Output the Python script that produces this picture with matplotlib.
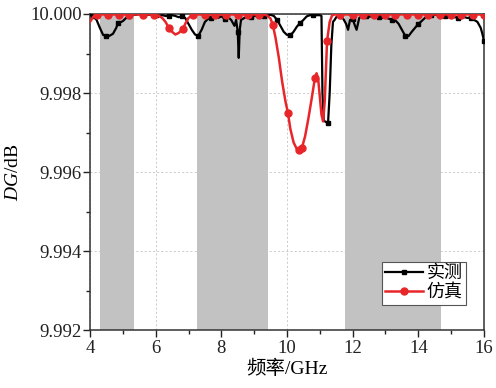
import numpy as np
import matplotlib
matplotlib.use("Agg")
import matplotlib.pyplot as plt
from matplotlib.ticker import MultipleLocator, FormatStrFormatter

# ---------------- data ----------------
# shaded bands (GHz)
band_start = [4.3, 7.26, 11.77]
band_end = [5.35, 9.42, 14.7]

# measured (实测): frequency (GHz) and DG (dB)
meas_f = [4.0, 4.1, 4.2, 4.3, 4.4, 4.5, 4.6, 4.7, 4.8, 4.85, 4.9, 5.0, 5.1, 5.2, 5.3,
          5.4, 5.5, 5.6, 5.7, 5.8, 5.9, 6.0, 6.1, 6.2, 6.3, 6.4, 6.5, 6.6, 6.7, 6.8,
          6.9, 7.0, 7.1, 7.2, 7.3, 7.4, 7.5, 7.6, 7.7, 7.8, 7.9, 8.0, 8.1, 8.2, 8.3,
          8.4, 8.45, 8.5, 8.53, 8.56, 8.6, 8.7, 8.8, 8.9, 9.0, 9.1, 9.2, 9.3, 9.4,
          9.5, 9.6, 9.7, 9.8, 9.9, 10.0, 10.1, 10.2, 10.3, 10.4, 10.5, 10.6, 10.7,
          10.8, 10.9, 11.0, 11.05, 11.08, 11.12, 11.2, 11.25, 11.3, 11.35, 11.4,
          11.45, 11.5, 11.6, 11.7, 11.8, 11.86, 11.92, 12.0, 12.05, 12.12, 12.2,
          12.3, 12.4, 12.5, 12.6, 12.7, 12.8, 12.9, 13.0, 13.1, 13.2, 13.3, 13.4,
          13.5, 13.6, 13.7, 13.8, 13.9, 14.0, 14.1, 14.2, 14.3, 14.4, 14.5, 14.6,
          14.7, 14.8, 14.9, 15.0, 15.1, 15.2, 15.3, 15.4, 15.5, 15.6, 15.7, 15.8,
          15.9, 15.95, 16.0]
meas_dg = [9.99997, 9.99995, 9.99985, 9.99965, 9.99947, 9.99944, 9.99945, 9.99950,
           9.99965, 9.99977, 9.99978, 9.99982, 9.99990, 9.99995, 9.99998,
           9.99998, 10.00000, 9.99999, 9.99997, 9.99998, 9.99999, 9.99997, 9.99995,
           9.99997, 9.99995, 9.99994, 9.99997, 9.99995, 9.99992, 9.99994,
           9.99990, 9.99975, 9.99960, 9.99948, 9.99945, 9.99960, 9.99980, 9.99988,
           9.99990, 9.99992, 9.99990, 9.99994, 9.99988, 9.99992, 9.99985,
           9.99970, 9.99985, 9.99955, 9.99889, 9.99960, 9.99985, 9.99990, 9.99994,
           9.99992, 9.99995, 9.99995, 9.99997, 9.99995, 9.99997,
           9.99998, 9.99995, 9.99985, 9.99970, 9.99955, 9.99947, 9.99946, 9.99955,
           9.99968, 9.99977, 9.99985, 9.99994, 9.99997,
           9.99998, 9.99997, 9.99997, 9.99995, 9.99800, 9.99730, 9.99726, 9.99724,
           9.99800, 9.99920, 9.99980,
           9.99985, 9.99992, 9.99995, 9.99990, 9.99975, 9.99960, 9.99985, 9.99988,
           9.99975, 9.99960, 9.99990,
           9.99995, 9.99994, 9.99993, 9.99995, 9.99992, 9.99992, 9.99990, 9.99991,
           9.99988, 9.99986, 9.99984, 9.99975,
           9.99960, 9.99945, 9.99944, 9.99955, 9.99965, 9.99975, 9.99982, 9.99990,
           9.99995, 9.99998, 9.99998, 9.99997,
           9.99995, 9.99996, 9.99992, 9.99990, 9.99992, 9.99991, 9.99989, 9.99992,
           9.99990, 9.99991, 9.99985, 9.99980,
           9.99965, 9.99950, 9.99932]
meas_mark_f = [4.1, 4.5, 4.85, 5.2, 5.6, 6.0, 6.4, 6.8, 7.3, 7.7, 8.1, 8.5, 8.9, 9.3,
               9.7, 10.1, 10.4, 10.8, 11.25, 11.6, 12.0, 12.4, 12.8, 13.2, 13.6, 14.0,
               14.4, 14.8, 15.2, 15.6, 16.0]

# simulated (仿真)
sim_f = [4.0, 4.1, 4.2, 4.3, 4.4, 4.55, 4.7, 4.88, 5.0, 5.19, 5.4, 5.61, 5.8, 5.95,
         6.1, 6.2, 6.3, 6.4, 6.5, 6.6, 6.7, 6.83, 6.9, 7.0, 7.15, 7.3, 7.5, 7.65,
         7.8, 8.0, 8.15, 8.3, 8.5, 8.65, 8.8, 9.0, 9.15, 9.3, 9.4, 9.5, 9.57, 9.65,
         9.75, 9.85, 9.95, 10.03, 10.1, 10.2, 10.3, 10.37, 10.45, 10.55, 10.65,
         10.75, 10.85, 10.9, 10.95, 11.0, 11.05, 11.1, 11.15, 11.22, 11.3, 11.37,
         11.45, 11.6, 11.8, 12.0, 12.15, 12.3, 12.5, 12.65, 12.8, 13.0, 13.15, 13.3,
         13.5, 13.65, 13.8, 14.0, 14.15, 14.3, 14.5, 14.65, 14.8, 15.0, 15.15, 15.3,
         15.5, 15.65, 15.8, 16.0]
sim_dg = [9.99980, 9.99993, 9.99998, 9.99999, 9.99999, 9.99998, 9.99999, 9.99998,
          9.99999, 9.99998, 9.99999, 9.99998, 9.99999, 9.99998,
          9.99995, 9.99990, 9.99980, 9.99965, 9.99955, 9.99948, 9.99952, 9.99962,
          9.99975, 9.99990, 9.99998, 9.99999, 9.99998, 9.99999,
          9.99998, 9.99999, 9.99998, 9.99999, 9.99998, 9.99999, 9.99998, 9.99999,
          9.99998, 9.99999, 9.99996, 9.99988, 9.99972, 9.99940,
          9.99890, 9.99830, 9.99780, 9.99749, 9.99710, 9.99675, 9.99658, 9.99655,
          9.99660, 9.99690, 9.99735,
          9.99785, 9.99838, 9.99850, 9.99835, 9.99790, 9.99745, 9.99728, 9.99780,
          9.99932, 9.99980, 9.99996,
          9.99999, 9.99998, 9.99999, 9.99998, 9.99999, 9.99998, 9.99999, 9.99998,
          9.99999, 9.99998, 9.99999, 9.99998,
          9.99999, 9.99998, 9.99999, 9.99998, 9.99999, 9.99998, 9.99999, 9.99998,
          9.99999, 9.99998, 9.99999, 9.99998,
          9.99999, 9.99998, 9.99999, 9.99998]
sim_mark_f = [4.2, 4.55, 4.88, 5.19, 5.61, 5.95, 6.4, 6.83, 7.15, 7.5, 7.8, 8.15, 8.5,
              8.8, 9.15, 9.57, 10.03, 10.37, 10.45, 10.85, 11.22, 11.6, 12.0, 12.3,
              12.65, 13.0, 13.3, 13.65, 14.0, 14.3, 14.65, 15.0, 15.3, 15.65, 16.0]

x_ticks = [4, 6, 8, 10, 12, 14, 16]
y_ticks = [9.992, 9.994, 9.996, 9.998, 10.000]

# ---------------- plotting ----------------
plt.rcParams['font.family'] = ['Liberation Serif', 'Noto Sans CJK SC']
plt.rcParams['mathtext.fontset'] = 'custom'
plt.rcParams['mathtext.it'] = 'Liberation Serif:italic'
plt.rcParams['mathtext.rm'] = 'Liberation Serif'

fig = plt.figure(figsize=(4.96, 3.88), dpi=100)
ax = fig.add_axes([90 / 496, 1 - 330 / 388, 394 / 496, 316 / 388])

for s, e in zip(band_start, band_end):
    ax.axvspan(s, e, color='#c2c2c2', lw=0, zorder=0.5)

def idx_of(fs, marks):
    fs = np.asarray(fs)
    return [int(np.argmin(np.abs(fs - m))) for m in marks]

ax.plot(meas_f, meas_dg, color='black', lw=1.6, marker='s', ms=3.5,
        markevery=idx_of(meas_f, meas_mark_f), label='实测', zorder=3)
ax.plot(sim_f, sim_dg, color='#e8262a', lw=1.8, marker='o', ms=5,
        markevery=idx_of(sim_f, sim_mark_f), label='仿真', zorder=4)

ax.set_xlim(4, 16)
ax.set_ylim(9.992, 10.000)
ax.set_xticks(x_ticks)
ax.set_yticks(y_ticks)
ax.xaxis.set_minor_locator(MultipleLocator(1))
ax.yaxis.set_minor_locator(MultipleLocator(0.001))
ax.yaxis.set_major_formatter(FormatStrFormatter('%.3f'))
ax.tick_params(which='major', direction='out', length=5, width=1.0, labelsize=13.5,
               colors='#222222', labelcolor='#222222')
ax.tick_params(which='minor', direction='out', length=3, width=1.0, colors='#222222')
ax.tick_params(axis='x', pad=2)
ax.tick_params(axis='y', pad=1)

ax.set_axisbelow('line')
ax.grid(True, which='major', color='#c4c4c4', linestyle=(0, (2.5, 2.5)), lw=0.6)

for sp in ax.spines.values():
    sp.set_linewidth(1.1)
    sp.set_color('#333333')

ax.set_xlabel('频率/GHz', fontsize=14, labelpad=2)
ax.set_ylabel(r'$DG$/dB', fontsize=14, labelpad=6)

leg = ax.legend(loc='lower right', bbox_to_anchor=(0.955, 0.08), fontsize=13,
                frameon=True, fancybox=False, framealpha=1, edgecolor='#555555',
                handlelength=2.1, handletextpad=0.2, borderpad=0.2,
                labelspacing=0.1, borderaxespad=0)
leg.get_frame().set_linewidth(0.8)

fig.savefig('out.png', dpi=100)
